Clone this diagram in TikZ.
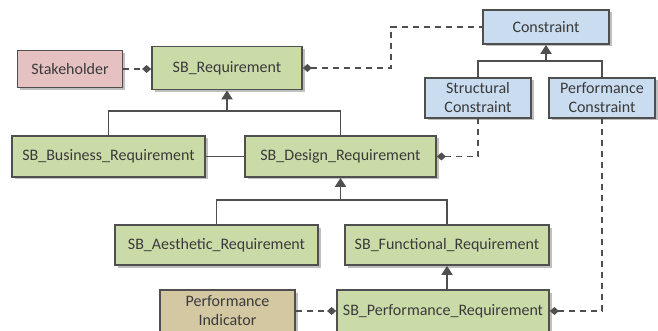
\documentclass[tikz,border=0pt]{standalone}
\usepackage{fontspec}
\setmainfont{Carlito}
\usetikzlibrary{arrows.meta,shadows}
\definecolor{edge}{HTML}{4F4F4F}
\definecolor{txt}{HTML}{3A3A3A}
\definecolor{grn}{HTML}{CADBA8}
\definecolor{pnk}{HTML}{E6C1C1}
\definecolor{blu}{HTML}{CADCF0}
\definecolor{tan}{HTML}{D3C8A2}
\begin{document}
\begin{tikzpicture}[x=1pt,y=-1pt,
  box/.style={draw=edge, line width=1.8pt, font=\fontsize{16}{19}\selectfont, text=txt, align=center, inner sep=0pt,
    drop shadow={shadow xshift=2.5pt,shadow yshift=-2.5pt,fill=black!25,opacity=1}},
  gbox/.style={box, fill=grn},
  pbox/.style={box, fill=pnk},
  bbox/.style={box, fill=blu},
  tbox/.style={box, fill=tan},
  conn/.style={draw=edge, line width=1.8pt},
  dconn/.style={conn, dash pattern=on 6pt off 5pt},
  inh/.style={-{Triangle[length=9pt,width=11pt]}}
]
\useasboundingbox (0,0) rectangle (658,331);
\node[pbox, minimum width=105pt, minimum height=37pt] (stake) at (70,69) {Stakeholder};
\node[gbox, minimum width=150pt, minimum height=43pt] (req) at (227,68) {SB\_Requirement};
\node[bbox, minimum width=126pt, minimum height=34pt] (con) at (546,27) {Constraint};
\node[bbox, minimum width=106pt, minimum height=40pt] (sc) at (478,98) {Structural\\Constraint};
\node[bbox, minimum width=106pt, minimum height=40pt] (pc) at (602,98) {Performance\\Constraint};
\node[gbox, minimum width=193pt, minimum height=41pt] (bus) at (108.5,156.5) {SB\_Business\_Requirement};
\node[gbox, minimum width=191pt, minimum height=41pt] (des) at (340.5,156.5) {SB\_Design\_Requirement};
\node[gbox, minimum width=203pt, minimum height=40pt] (aes) at (216.5,245) {SB\_Aesthetic\_Requirement};
\node[gbox, minimum width=204pt, minimum height=40pt] (fun) at (447,245) {SB\_Functional\_Requirement};
\node[tbox, minimum width=135pt, minimum height=42pt] (pi) at (227.5,311) {Performance\\Indicator};
\node[gbox, minimum width=212pt, minimum height=42pt] (perf) at (443,311) {SB\_Performance\_Requirement};

% stakeholder -- requirement
\draw[dconn, -{Diamond[length=9pt,width=8pt]}] (stake.east) -- (stake.east -| req.west);
% requirement -- constraint
\draw[dconn, {Diamond[length=9pt,width=8pt]}-] (req.east) -- ++(88,0) |- (con.west);
% constraint generalisation
\draw[conn] (sc.north) -- ++(0,-16) -| (pc.north);
\draw[conn, inh] (con.south |- 0,62) -- (con.south);
% requirement generalisation
\draw[conn] (bus.north) -- ++(0,-24) -| (des.north);
\draw[conn, inh] (req.south |- 0,112) -- (req.south);
% business -- design
\draw[conn] (bus.east) -- (des.west);
% design -- structural constraint
\draw[dconn, {Diamond[length=9pt,width=8pt]}-] (des.east) -| (sc.south);
% design generalisation
\draw[conn] (aes.north) -- ++(0,-24) -| (fun.north);
\draw[conn, inh] (des.south |- 0,201) -- (des.south);
% functional generalisation
\draw[conn, inh] (fun.south |- perf.north) -- (fun.south);
% indicator -- performance requirement
\draw[dconn, -{Diamond[length=9pt,width=8pt]}] (pi.east) -- (perf.west);
% performance requirement -- performance constraint
\draw[dconn, {Diamond[length=9pt,width=8pt]}-] (perf.east) -| (pc.south);
\end{tikzpicture}
\end{document}
